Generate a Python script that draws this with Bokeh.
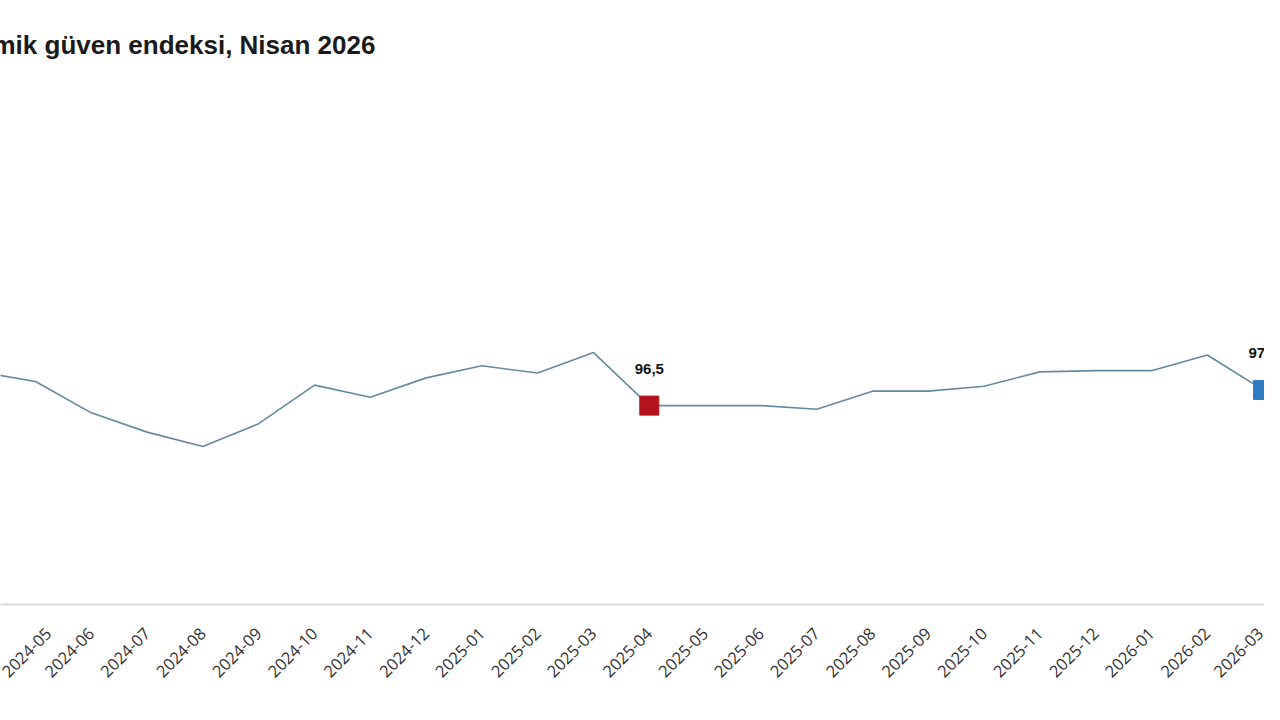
import math
from bokeh.plotting import figure
from bokeh.models import ColumnDataSource, FixedTicker
from bokeh.core.properties import value
from bokeh.embed import file_html
from bokeh.resources import INLINE

# ---- data ----
months = ["2024-04", "2024-05", "2024-06", "2024-07", "2024-08", "2024-09",
          "2024-10", "2024-11", "2024-12", "2025-01", "2025-02", "2025-03",
          "2025-04", "2025-05", "2025-06", "2025-07", "2025-08", "2025-09",
          "2025-10", "2025-11", "2025-12", "2026-01", "2026-02", "2026-03"]
index_values = [99.3, 98.5, 95.9, 94.3, 93.1, 95.0,
                98.2, 97.2, 98.8, 99.8, 99.2, 100.9,
                96.5, 96.5, 96.5, 96.2, 97.7, 97.7,
                98.1, 99.3, 99.4, 99.4, 100.7, 97.8]
highlight_months = ["2025-04", "2026-03"]
highlight_labels = ["96,5", "97,8"]
highlight_colors = ["#b3131c", "#2c7bc3"]
title_text = "mik güven endeksi, Nisan 2026"

xs = list(range(len(months)))
hx = [months.index(m) for m in highlight_months]
hy = [index_values[i] for i in hx]

p = figure(width=1264, height=704, output_backend="svg", toolbar_location=None,
           x_range=(0.3728, 23.0251), y_range=(80.0, 123.47),
           min_border_left=0, min_border_right=0,
           min_border_top=80, min_border_bottom=100)
p.title.text = title_text
p.title.text_font = "Liberation Sans"
p.title.text_font_size = "26px"
p.title.text_font_style = "bold"
p.title.text_color = "#1a1a1a"
p.title.offset = -8
p.title.standoff = 42

p.outline_line_color = None
p.xgrid.visible = False
p.ygrid.visible = False
p.yaxis.visible = False

ax = p.xaxis[0]
ax.ticker = FixedTicker(ticks=xs)
ax.major_label_overrides = {i: m for i, m in zip(xs, months)}
ax.major_label_orientation = math.pi / 4
ax.major_label_text_font = "Open Sans"
ax.major_label_text_font_size = "16.5px"
ax.major_label_text_color = "#333333"
ax.major_label_standoff = 20
ax.major_tick_line_color = None
ax.minor_tick_line_color = None
ax.axis_line_color = "#d9d9d9"
ax.axis_line_width = 2

src = ColumnDataSource(dict(x=xs, y=index_values))
p.line("x", "y", source=src, line_color="#668a9d", line_width=1.6)

hsrc = ColumnDataSource(dict(x=hx, y=hy, c=highlight_colors, t=highlight_labels))
p.scatter("x", "y", source=hsrc, marker="square", size=19,
          fill_color="c", line_color="c")
p.text("x", "y", text="t", source=hsrc, y_offset=-37,
       text_align="center", text_baseline="middle",
       text_font=value("Liberation Sans"), text_font_style="bold",
       text_font_size="15px", text_color="#111111")

open("out.html", "w").write(file_html(p, INLINE))
